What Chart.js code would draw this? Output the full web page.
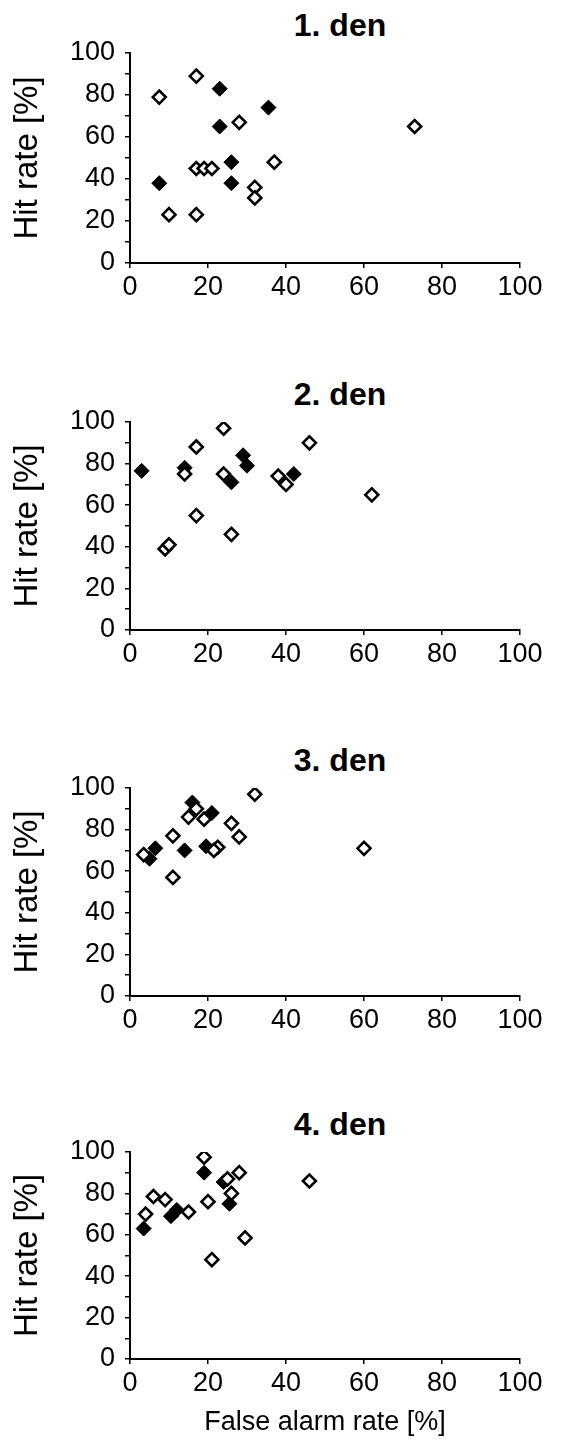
<!DOCTYPE html>
<html>
<head>
<meta charset="utf-8">
<script src="https://cdn.jsdelivr.net/npm/chart.js@4.4.1/dist/chart.umd.min.js"></script>
<style>
html,body{margin:0;padding:0;background:#fff;overflow:hidden}
body{width:561px;height:1446px;position:relative;font-family:"Liberation Sans",Arial,sans-serif}
.panel{position:absolute;left:0;width:561px}
.ttl{position:absolute;left:240px;width:200px;text-align:center;font-weight:bold;font-size:32px;line-height:38px;color:#000}
</style>
</head>
<body>
<div class="ttl" id="t0"></div><div class="panel" id="p0"><canvas id="c0"></canvas></div>
<div class="ttl" id="t1"></div><div class="panel" id="p1"><canvas id="c1"></canvas></div>
<div class="ttl" id="t2"></div><div class="panel" id="p2"><canvas id="c2"></canvas></div>
<div class="ttl" id="t3"></div><div class="panel" id="p3"><canvas id="c3"></canvas></div>
<script>
const titles=['1. den','2. den','3. den','4. den'];
const yTitle='Hit rate [%]';
const xTitle='False alarm rate [%]';

// day 1
const d1OpenX=[7.5,17,28,73,17,19,21,37,32,32,10,17];
const d1OpenY=[79,89,67,65,45,45,45,48,36,31,23,23];
const d1FillX=[23,35.5,23,26,7.5,26];
const d1FillY=[83,74,65,48,38,38];
// day 2
const d2OpenX=[24,17,46,14,24,38,40,62,17,26,9,10];
const d2OpenY=[97,88,90,75,75,74,70,65,55,46,39,41];
const d2FillX=[3,14,29,30,26,42];
const d2FillY=[76.5,78,84,79,71,75];
// day 3
const d3OpenX=[32,17,15,19,26,11,28,22.5,21.5,60,3.5,11];
const d3OpenY=[97,90,86,85,83,77,76.5,71.5,70,71,68,57];
const d3FillX=[16,21,6.5,5,14,19.5];
const d3FillY=[93,88,71,66,70,72];
// day 4
const d4OpenX=[19,28,25,46,26,6,9,20,4,15,29.5,21];
const d4OpenY=[97.5,90,87,86,80,78.5,77,76,70,71,58.5,48];
const d4FillX=[19,24,25.5,10.5,12,3.5];
const d4FillY=[90,85.5,75,69,72,63];

const FONT='"Liberation Sans", Arial, sans-serif';
const PANELS=[
  {top:0,plotH:210,axisH:50,ox:d1OpenX,oy:d1OpenY,fx:d1FillX,fy:d1FillY},
  {top:369,plotH:208,axisH:50,ox:d2OpenX,oy:d2OpenY,fx:d2FillX,fy:d2FillY},
  {top:735,plotH:208,axisH:50,ox:d3OpenX,oy:d3OpenY,fx:d3FillX,fy:d3FillY},
  {top:1099,plotH:207,axisH:84,ox:d4OpenX,oy:d4OpenY,fx:d4FillX,fy:d4FillY,xt:true}
];
const TOP=53;

function pts(xs,ys){return xs.map((v,i)=>({x:v,y:ys[i]}));}

function makePanel(i){
  const P=PANELS[i];
  const h=TOP+P.plotH+P.axisH;
  const box=document.getElementById('p'+i);
  box.style.top=P.top+'px';box.style.height=h+'px';
  const t=document.getElementById('t'+i);
  t.textContent=titles[i];t.style.top=(P.top+TOP-47)+'px';
  const axisGrid={display:true,drawOnChartArea:false,drawTicks:true,tickLength:5,color:'#000',lineWidth:1.5};
  const tickFont={family:FONT,size:27};
  new Chart(document.getElementById('c'+i),{
    type:'scatter',
    data:{datasets:[
      {label:'open',data:pts(P.ox,P.oy),pointStyle:'rectRot',pointRadius:6.5,borderWidth:2.6,
       borderColor:'#000',backgroundColor:'#fff'},
      {label:'filled',data:pts(P.fx,P.fy),pointStyle:'rectRot',pointRadius:7.5,borderWidth:1,
       borderColor:'#000',backgroundColor:'#000'}
    ]},
    options:{
      responsive:true,maintainAspectRatio:false,animation:false,
      layout:{padding:{top:TOP,right:41,bottom:0,left:0}},
      plugins:{legend:{display:false},tooltip:{enabled:false},title:{display:false}},
      events:[],
      scales:{
        x:{type:'linear',min:0,max:100,
           border:{color:'#000',width:2},grid:axisGrid,
           ticks:{stepSize:20,color:'#000',font:tickFont,padding:3,maxRotation:0,autoSkip:false},
           title:P.xt?{display:true,text:xTitle,color:'#000',font:{family:FONT,size:27},padding:{top:0,bottom:4}}:{display:false},
           afterFit:s=>{s.height=P.axisH;}},
        y:{type:'linear',min:0,max:100,
           border:{color:'#000',width:2},grid:axisGrid,
           ticks:{stepSize:10,color:'#000',font:tickFont,padding:10,autoSkip:false,
                  callback:v=>v%20===0?v:''},
           title:{display:true,text:yTitle,color:'#000',font:{family:FONT,size:33},padding:{top:8,bottom:0}},
           afterFit:s=>{s.width=130;}}
      }
    }
  });
}

for(let i=0;i<PANELS.length;i++)makePanel(i);
</script>
</body>
</html>
